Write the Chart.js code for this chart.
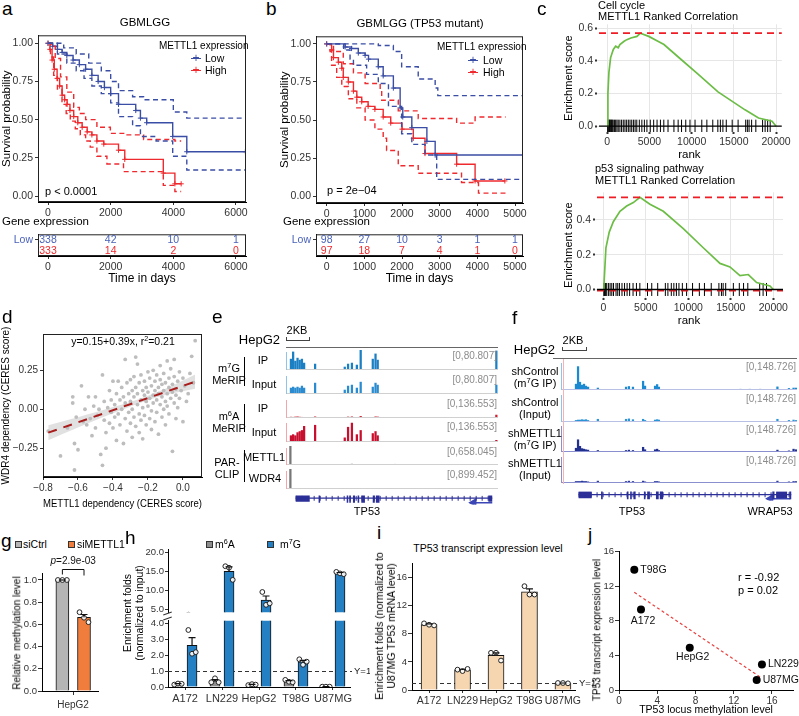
<!DOCTYPE html>
<html><head><meta charset="utf-8"><title>METTL1 figure</title>
<script src="https://cdn.jsdelivr.net/npm/chart.js@4.4.1/dist/chart.umd.min.js"></script>
<style>
html,body{margin:0;padding:0;background:#fff}
body{position:relative;width:799px;height:716px;overflow:hidden;font-family:"Liberation Sans",Arial,Helvetica,sans-serif;color:#000}
canvas{position:absolute;display:block}
.t{position:absolute;white-space:nowrap;line-height:1.15;z-index:5}
.l{position:absolute;z-index:4}
sup{font-size:0.68em;vertical-align:0.5em;line-height:0}
</style></head><body>
<script>
// ================= DATA =================
// a: GBMLGG Kaplan-Meier (time in days, survival)
const aLowT=[0,150,300,450,600,800,1000,1200,1400,1600,1800,2000,2250,2800,2950,3150,3980,4430,6300];
const aLowS=[1.0,0.98,0.96,0.94,0.92,0.89,0.86,0.83,0.79,0.75,0.71,0.67,0.60,0.56,0.51,0.48,0.39,0.29,0.29];
const aLowUpT=[0,500,900,1300,1700,2000,2250,2700,3050,4000,4430,6300];
const aLowUpS=[1.0,0.97,0.93,0.87,0.82,0.75,0.69,0.65,0.63,0.55,0.51,0.51];
const aLowLoT=[0,300,600,900,1150,1400,1700,2000,2250,2700,2950,3450,3980,4430,6300];
const aLowLoS=[1.0,0.93,0.87,0.82,0.77,0.72,0.67,0.61,0.52,0.46,0.39,0.36,0.26,0.17,0.17];
const aHighT=[0,60,130,200,290,370,450,530,610,700,820,950,1090,1250,1400,1560,1780,2250,2450,3680,4050,4250];
const aHighS=[1.0,0.96,0.89,0.83,0.77,0.72,0.66,0.63,0.60,0.56,0.52,0.48,0.45,0.42,0.40,0.36,0.34,0.30,0.24,0.15,0.08,0.08];
const aHighUpT=[0,100,230,400,600,820,1000,1200,1560,1990,2500,3050,4050,4250];
const aHighUpS=[1.0,0.98,0.90,0.78,0.68,0.58,0.54,0.50,0.45,0.41,0.40,0.37,0.36,0.36];
const aHighLoT=[0,80,180,300,446,580,711,870,1030,1200,1348,1560,1880,2410,3680,4050,4250];
const aHighLoS=[1.0,0.91,0.79,0.70,0.60,0.54,0.49,0.44,0.40,0.36,0.32,0.26,0.21,0.16,0.07,0.03,0.03];
const aRiskTimes=[0,2000,4000,6000];
const aRiskLow=[338,42,10,1];
const aRiskHigh=[333,14,2,0];
const aTicksX=[0,2000,4000,6000];

// b: GBMLGG (TP53 mutant)
const bLowT=[0,490,660,840,1020,1110,1370,1500,1770,1950,2020,2260,2660,2880,5300];
const bLowS=[1.0,0.98,0.97,0.94,0.925,0.90,0.85,0.79,0.71,0.58,0.52,0.45,0.36,0.27,0.27];
const bLowUpT=[0,1370,1770,1990,2430,2880,2950,5300];
const bLowUpS=[1.0,0.99,0.95,0.85,0.77,0.71,0.66,0.66];
const bLowLoT=[0,450,620,710,1060,1370,1640,1990,2260,2610,2920,5300];
const bLowLoS=[1.0,0.96,0.90,0.86,0.80,0.74,0.59,0.41,0.34,0.27,0.11,0.11];
const bHighT=[0,130,180,310,400,440,575,710,800,930,1100,1280,1500,1700,2000,2300,2610,3450,3940,4730];
const bHighS=[1.0,0.96,0.91,0.88,0.84,0.78,0.75,0.69,0.65,0.62,0.59,0.57,0.52,0.48,0.44,0.38,0.28,0.21,0.10,0.10];
const bHighUpT=[0,180,440,710,1020,1420,1460,1900,2430,3450,3940,4750];
const bHighUpS=[1.0,0.95,0.87,0.81,0.74,0.70,0.63,0.56,0.51,0.48,0.52,0.52];
const bHighLoT=[0,90,130,265,400,575,800,1020,1280,1500,1590,1900,2430,3580,4030,4750];
const bHighLoS=[1.0,0.95,0.86,0.78,0.72,0.64,0.58,0.50,0.44,0.38,0.30,0.20,0.15,0.09,0.02,0.02];
const bRiskTimes=[0,1000,2000,3000,4000,5000];
const bRiskLow=[98,27,10,3,1,1];
const bRiskHigh=[97,18,7,4,1,0];
const bTicksX=[0,1000,2000,3000,4000,5000];
const kmTicksY=[0,0.25,0.5,0.75,1];

// c: GSEA running enrichment scores
const cCycleRank=[0,80,200,400,720,1000,1300,1500,2000,2320,2800,3520,3920,4920,6000,6720,8720,10720,13120,14720,16320,17920,19520,20000];
const cCycleES=[0,0.2,0.33,0.42,0.47,0.49,0.48,0.50,0.52,0.53,0.54,0.55,0.57,0.55,0.52,0.50,0.41,0.32,0.21,0.155,0.10,0.05,0.03,0];
const cCycleHits=[50,120,200,280,350,430,520,600,700,850,1000,1150,1300,1500,1700,1900,2100,2300,2500,2700,2900,3100,3300,3500,3800,4100,4400,4700,5100,5500,5900,6300,6700,7200,7900,8400,8800,9300,9800,10400,11200,11800,12500,13100,13400,13700,14100,14800,15500,16400,16600,16800,17100,17600,18400,18700,19000,19300];
const cP53Rank=[0,80,310,700,1180,1960,2750,3530,4310,5490,7060,9410,11760,13730,14900,16080,17060,18040,18820,19610,20000];
const cP53ES=[0,0.03,0.24,0.33,0.39,0.45,0.48,0.50,0.53,0.49,0.45,0.35,0.24,0.15,0.13,0.08,0.086,0.04,0.03,0.02,0];
const cP53Hits=[60,150,250,400,600,800,1000,1200,1500,1700,1900,2200,2500,2800,3100,3500,3900,4300,5200,5700,6400,7300,7600,8000,8300,8600,8900,9300,9800,10500,11300,11900,12700,13600,13900,14100,14400,15300,16000,16500,17000,18400,18800,19200];
const cTicksX=[0,5000,10000,15000,20000];

// d: METTL1 vs WDR4 dependency (CERES)
const dX=[-0.77,-0.70,-0.66,-0.63,-0.63,-0.62,-0.62,-0.61,-0.60,-0.58,-0.57,-0.56,-0.55,-0.54,-0.53,-0.52,-0.51,-0.50,-0.50,
-0.49,-0.48,-0.47,-0.46,-0.46,-0.45,-0.45,-0.44,-0.44,-0.43,-0.42,-0.42,-0.41,-0.41,-0.40,-0.40,-0.39,-0.39,-0.38,-0.38,-0.37,-0.37,-0.36,-0.36,-0.35,-0.35,-0.34,-0.34,
-0.33,-0.33,-0.33,-0.32,-0.32,-0.31,-0.31,-0.30,-0.30,-0.30,-0.29,-0.29,-0.29,-0.28,-0.28,-0.28,-0.27,-0.27,-0.27,-0.26,-0.26,-0.26,-0.25,-0.25,-0.25,-0.24,-0.24,-0.24,-0.23,-0.23,-0.23,-0.22,-0.22,-0.22,-0.21,-0.21,-0.21,-0.20,-0.20,-0.20,-0.19,-0.19,-0.19,-0.18,-0.18,-0.18,-0.17,-0.17,-0.17,-0.16,-0.16,-0.16,
-0.15,-0.15,-0.15,-0.14,-0.14,-0.14,-0.13,-0.13,-0.13,-0.12,-0.12,-0.12,-0.11,-0.11,-0.11,-0.10,-0.10,-0.10,-0.09,-0.09,-0.09,-0.08,-0.08,-0.08,-0.07,-0.07,-0.06,-0.06,-0.06,-0.05,-0.05,-0.05,-0.04,-0.04,-0.04,-0.03,-0.03,-0.02,-0.02,-0.01,0.00,0.00,0.01,0.02,0.03,0.04,0.05,0.06,0.07];
const dY=[-0.14,-0.30,-0.12,0.08,0.04,-0.39,-0.22,-0.05,-0.26,0.15,-0.08,0.00,-0.10,0.08,-0.06,-0.17,0.02,0.08,-0.12,
-0.04,0.00,-0.29,-0.36,0.22,-0.07,0.05,-0.25,-0.15,0.01,-0.09,0.12,-0.02,0.06,-0.12,0.18,-0.05,0.03,0.10,-0.20,-0.03,0.18,0.06,-0.10,0.00,0.14,-0.22,0.08,
0.32,-0.06,0.04,0.17,-0.14,0.10,-0.02,0.19,0.05,-0.09,0.12,-0.18,0.00,0.08,-0.05,0.21,0.335,0.14,-0.11,0.29,0.03,0.10,-0.03,0.17,-0.15,0.06,0.22,-0.07,0.12,0.01,-0.19,0.09,0.18,-0.04,0.05,0.14,-0.10,0.24,0.02,0.11,-0.06,0.07,0.20,0.15,-0.01,-0.13,0.09,0.04,0.25,0.12,-0.08,0.18,
0.06,0.22,-0.02,0.14,0.10,-0.16,0.03,0.19,0.28,0.08,-0.05,0.16,0.12,0.00,0.23,0.05,-0.10,0.17,0.10,0.31,0.02,0.14,-0.03,0.20,0.07,0.26,-0.27,0.11,0.16,0.04,0.32,0.21,0.09,-0.06,0.13,0.18,0.01,0.24,0.07,0.12,0.20,-0.08,0.15,0.05,0.10,0.23,0.34,0.17,0.44];
const dFitA=0.15, dFitB=0.39, dR2=0.21;
const dBandX=[-0.77,-0.6,-0.4,-0.25,-0.1,0.07];
const dBandHW=[0.048,0.033,0.02,0.014,0.02,0.045];

// e: HepG2 TP53 locus tracks (position in kb, signal)
const eRange=[80.807,80.807,136.553,136.553,658.045,899.452];
const ePos=[0.45,0.65,0.85,1.05,1.25,1.45,1.65,2.65,5.35,5.65,6.0,6.45,6.8,7.9,8.15,8.35,19.15];
const eM7GIP=[44,73,36,48,40,44,28,24,12,24,28,20,80,44,65,40,77];
const eM7GInput=[24,28,24,28,24,32,24,44,16,32,36,24,48,28,44,36,36];
const eM6AIP=[6,5,7,8,6,5,4,8,3,7,8,4,11,4,8,7,20];
const eM6AInput=[41,48,41,61,68,75,102,109,27,96,123,48,75,55,68,41,11];
const eParPos=[0.4,6.0,9.9];
const eMETTL1=[658,30,25];
const eWDR4=[899,0,0];
const eIntron=[0.4,19.3];
const eUTR=[[0.4,1.75],[18.9,19.3]];
const eExons=[[2.6,2.75],[5.3,5.45],[5.55,5.7],[5.9,6.1],[6.35,6.5],[6.7,7.05],[7.8,8.0],[8.1,8.45]];
const eArrow=[17.5,19.3];

// f: HepG2 shControl / shMETTL1 tracks
const fRange=[148.726,148.726,148.726,148.726];
const fPos=[1.3,1.48,1.65,1.83,2.0,2.17,2.35,3.2,5.65,5.9,6.25,7.13,7.3,8.17,8.35,8.5,15.6,16.4,17.3,18.8,19.8,20.2,20.4];
const fCtrlIP=[30,120,40,25,30,20,15,10,15,18,15,45,20,20,28,15,4,4,4,16,8,10,10];
const fCtrlInput=[8,10,10,12,10,12,8,14,14,16,12,14,8,10,12,10,2,2,2,14,8,10,8];
const fKdIP=[20,65,30,18,15,12,10,8,8,10,8,25,12,12,15,8,3,3,3,10,6,15,12];
const fKdInput=[8,8,8,10,8,8,6,10,8,10,8,10,6,8,8,6,2,2,2,10,6,8,8];
const fIntron=[1.1,20.5];
const fUTR=[[1.1,2.3],[19.1,20.1]];
const fExons=[[3.15,3.3],[5.5,5.65],[5.8,5.95],[6.1,6.3],[7.05,7.2],[7.35,7.6],[8.15,8.4],[8.5,8.8],[18.75,18.95],[20.3,20.5]];
const fArrow=[18.6,20.4];

// g: relative methylation
const gGroup='HepG2';
const gCtrl=[1.0,1.0,1.0];
const gKd=[0.71,0.66,0.62];
const gP='2.9e-03';
const gTicksY=[0,0.2,0.4,0.6,0.8,1.0];

// h: enrichment folds (normalized to input)
const hCats=['A172','LN229','HepG2','T98G','U87MG'];
const hM6A=[[0.15,0.22,0.2],[0.3,0.55,0.3],[0.12,0.18,0.15],[0.45,0.33,0.3],[0.02,0.02,0.02]];
const hM7G=[[3.6,2.1,2.2],[16.4,16.0,12.8],[9.6,6.2,6.6],[1.75,1.4,1.6],[14.9,14.5,14.3]];
const hTicksLow=[0,1,2,3,4];
const hTicksHigh=[5,10,15,20];

// i: TP53 transcript expression
const iCats=['A172','LN229','HepG2','T98G','U87MG'];
const iVals=[[9.5,9.3,9.2],[2.9,2.7,3.0],[5.3,5.3,4.2],[14.8,13.6,13.6],[1.0,1.0,0.95]];
const iTicksY=[0,4,8,12,16];

// j: methylation vs expression
const jNames=['A172','LN229','HepG2','T98G','U87MG'];
const jMeth=[2.3,14.95,7.4,1.6,14.4];
const jExpr=[9.3,2.95,4.9,13.9,1.15];
const jR='-0.92', jPv='0.02';
const jTicks=[0,4,8,12,16];

// ================= HELPERS =================
const FF='"Liberation Sans", Arial, Helvetica, sans-serif';
Chart.defaults.font.family=FF;
Chart.defaults.color='#333';
const BLUE='#3b4ea5', RED='#ee2a2e', GREEN='#6cbd45', NAVY='#2b2f97';
const mean=a=>a.reduce((s,v)=>s+v,0)/a.length;
const sem=a=>{const m=mean(a);return Math.sqrt(a.reduce((s,v)=>s+(v-m)*(v-m),0)/(a.length-1))/Math.sqrt(a.length);};
const minus=s=>String(s).replace('-','\u2212');

function T(html,x,y,o){o=o||{};const d=document.createElement('div');d.className='t';d.innerHTML=html;
  d.style.fontSize=(o.fs||11)+'px';d.style.left=x+'px';d.style.top=y+'px';
  if(o.color)d.style.color=o.color; if(o.it)d.style.fontStyle='italic'; if(o.ta)d.style.textAlign=o.ta;
  const ax=o.a==='c'?'-50%':o.a==='r'?'-100%':'0';
  d.style.transform=o.rot?('translate(-50%,-50%) rotate('+o.rot+'deg)'):('translate('+ax+',-50%)');
  document.body.appendChild(d);return d;}
function box(x,y,w,h,css){const d=document.createElement('div');d.className='l';
  Object.assign(d.style,{left:x+'px',top:y+'px',width:w+'px',height:h+'px'},css||{});document.body.appendChild(d);return d;}
function key(x,y,c){box(x-5,y,10,0,{borderTop:'1.4px solid '+c});T('+',x,y+0.5,{fs:12,a:'c',color:c});}

function mk(L,Tp,R,B,o,cfg){
  const pt=o.pt!=null?o.pt:6, pr=o.pr!=null?o.pr:12, pb=o.pb||0, yW=o.yW||0, xH=o.xH||0;
  const left=L-yW, top=Tp-pt, w=Math.round(R-L+yW+pr), h=Math.round(B-Tp+pt+xH+pb);
  const c=document.createElement('canvas');c.width=w;c.height=h;
  Object.assign(c.style,{left:left+'px',top:top+'px',width:w+'px',height:h+'px'});
  document.body.appendChild(c);
  cfg.options=Object.assign({responsive:false,maintainAspectRatio:false,animation:false,devicePixelRatio:1,events:[]},cfg.options||{});
  cfg.options.layout={padding:{top:pt,right:pr,bottom:pb,left:0}};
  cfg.options.plugins={legend:{display:false},tooltip:{enabled:false}};
  return new Chart(c,cfg);
}
function lin(o){
  const tl=o.tl!=null?o.tl:3;
  return {type:'linear',min:o.min,max:o.max,display:true,offset:false,
    afterBuildTicks:s=>{s.ticks=(o.ticks||[]).map(v=>({value:v}));},
    afterFit:s=>{if(o.size!=null){if(s.isHorizontal())s.height=o.size;else s.width=o.size;}},
    ticks:{display:o.hide?false:true,autoSkip:false,maxRotation:0,minRotation:0,padding:o.pad!=null?o.pad:2,color:o.tc||'#333',font:{size:o.fs||10,family:FF},callback:o.fmt||(v=>String(v))},
    grid:{display:!o.hide,offset:false,drawOnChartArea:!!o.gridOn,color:o.gc||'#e6e6e6',lineWidth:1,drawTicks:tl>0,tickLength:tl,tickColor:o.tcol||'#333',tickWidth:o.tw||1},
    border:{display:o.border!==false&&!o.hide,color:'#000',width:1},
    title:o.title?{display:true,text:o.title,color:'#000',font:{size:o.tfs||11,family:FF},padding:o.tpad||{top:0,bottom:2}}:{display:false}};
}
const frameP={id:'frameP',afterDraw(ch){const a=ch.chartArea,ctx=ch.ctx;ctx.save();ctx.strokeStyle='#222';ctx.lineWidth=1;
  ctx.strokeRect(a.left+0.5,a.top+0.5,a.right-a.left-1,a.bottom-a.top-1);ctx.restore();}};
const DOT={showLine:false,clip:0,pointRadius:2.4,pointStyle:'circle',pointBackgroundColor:'rgba(255,255,255,0.9)',pointBorderColor:'#222',pointBorderWidth:1};
function errP(list){return {id:'err',afterDatasetsDraw(ch){const ctx=ch.ctx,xs=ch.scales.x,ys=ch.scales.y,a=ch.chartArea;
  ctx.save();ctx.beginPath();ctx.rect(a.left,a.top-1,a.right-a.left,a.bottom-a.top+1);ctx.clip();
  ctx.strokeStyle='#111';ctx.lineWidth=1.2;
  list.forEach(([x,vals])=>{const m=mean(vals),s=sem(vals),px=xs.getPixelForValue(x),y1=ys.getPixelForValue(m),y2=ys.getPixelForValue(m+s);
    ctx.beginPath();ctx.moveTo(px,y1);ctx.lineTo(px,y2);ctx.moveTo(px-3.5,y2);ctx.lineTo(px+3.5,y2);ctx.stroke();});
  ctx.restore();}};}
function refY1(label){return {id:'y1',beforeDatasetsDraw(ch){const ctx=ch.ctx,ys=ch.scales.y,a=ch.chartArea,y=Math.round(ys.getPixelForValue(1))+0.5;
  ctx.save();ctx.strokeStyle='#333';ctx.lineWidth=1;ctx.setLineDash([4,3]);ctx.beginPath();ctx.moveTo(a.left,y);ctx.lineTo(a.right+2,y);ctx.stroke();ctx.restore();},
  afterDraw(ch){const ctx=ch.ctx,ys=ch.scales.y,a=ch.chartArea;ctx.save();ctx.fillStyle='#222';ctx.font='9.5px '+FF;ctx.textBaseline='middle';ctx.textAlign='left';
  ctx.fillText(label,a.right+4,ys.getPixelForValue(1));ctx.restore();}};}

// ================= PANEL a / b =================
function km(L,Tp,R,B,xmin,xmax,xt,ymin,ymax,sets){
  return mk(L,Tp,R,B,{yW:38,xH:16,pt:6,pr:14},{type:'line',data:{datasets:sets.map(d=>({
    data:d.t.map((t,i)=>({x:t,y:d.s[i]})),stepped:true,borderColor:d.c,borderWidth:1.4,borderDash:d.dash?[5,3.5]:[],
    pointRadius:d.dash?0:2.6,pointStyle:'cross',pointBorderColor:d.c,pointBorderWidth:1,fill:false}))},
    options:{scales:{x:lin({min:xmin,max:xmax,ticks:xt,size:16,fs:10.5}),
      y:lin({min:ymin,max:ymax,ticks:kmTicksY,fmt:v=>v.toFixed(2),size:38,fs:10.5,title:'Survival probability',tfs:11.5,tpad:{top:0,bottom:2}})}},
    plugins:[frameP]});
}
function risk(L,Tp,R,B,xmin,xmax,xt,low,high){
  return mk(L,Tp,R,B,{yW:38,xH:30,pt:6,pr:14},{type:'line',data:{datasets:[]},options:{scales:{
    x:lin({min:xmin,max:xmax,ticks:xt,size:30,fs:10.5,title:'Time in days',tfs:12,tpad:{top:2,bottom:0}}),
    y:{type:'category',labels:['Low','High'],offset:true,afterFit:s=>{s.width=38;},
       ticks:{font:{size:10.5,family:FF},color:c=>c.index===0?'#4a62b8':RED,padding:2},
       grid:{display:true,offset:false,drawOnChartArea:false,tickLength:3,tickColor:'#333'},border:{display:true,color:'#000'}}}},
    plugins:[frameP,{id:'rt',afterDraw(ch){const ctx=ch.ctx,xs=ch.scales.x,ys=ch.scales.y;ctx.save();ctx.font='10.5px '+FF;ctx.textAlign='center';ctx.textBaseline='middle';
      [low,high].forEach((row,i)=>{ctx.fillStyle=i?RED:'#4a62b8';row.forEach((v,j)=>ctx.fillText(String(v),xs.getPixelForValue(xt[j]),ys.getPixelForValue(i)+0.5));});ctx.restore();}}]});
}
km(38,33,246,202,-320,6320,aTicksX,-0.039,1.052,[
  {t:aLowUpT,s:aLowUpS,c:BLUE,dash:true},{t:aLowLoT,s:aLowLoS,c:BLUE,dash:true},
  {t:aHighUpT,s:aHighUpS,c:RED,dash:true},{t:aHighLoT,s:aHighLoS,c:RED,dash:true},
  {t:aLowT,s:aLowS,c:BLUE},{t:aHighT,s:aHighS,c:RED}]);
risk(38,232,246,256,-320,6320,aRiskTimes,aRiskLow,aRiskHigh);
km(316,34,523,203,-284,5212,bTicksX,-0.045,1.05,[
  {t:bLowUpT,s:bLowUpS,c:BLUE,dash:true},{t:bLowLoT,s:bLowLoS,c:BLUE,dash:true},
  {t:bHighUpT,s:bHighUpS,c:RED,dash:true},{t:bHighLoT,s:bHighLoS,c:RED,dash:true},
  {t:bLowT,s:bLowS,c:BLUE},{t:bHighT,s:bHighS,c:RED}]);
risk(316,232,523,256,-284,5212,bRiskTimes,bRiskLow,bRiskHigh);

T('a',2,9,{fs:19});T('b',266,9,{fs:19});
T('GBMLGG',145,23,{fs:11.5,a:'c'});T('GBMLGG (TP53 mutant)',420,24,{fs:11.5,a:'c'});
T('METTL1 expression',159,46,{fs:10});key(196,58,BLUE);T('Low',205,58,{fs:10.5});key(196,70,RED);T('High',205,70,{fs:10.5});
T('METTL1 expression',437,47,{fs:10});key(473,60,BLUE);T('Low',483,60,{fs:10.5});key(473,72,RED);T('High',483,72,{fs:10.5});
T('p &lt; 0.0001',45,191,{fs:11});T('p = 2e\u221204',327,190,{fs:11});
T('Gene expression',2,222,{fs:11.5});T('Gene expression',283,222,{fs:11.5});

// ================= PANEL c =================
function gsea(L,Tp,R,B,yW,xmin,xmax,ymin,ymax,yt,rank,es,hits,zeroRed){
  const top=Math.max(...es);
  return mk(L,Tp,R,B,{yW:yW,xH:30,pt:6,pr:10},{type:'line',data:{datasets:[
    {data:rank.map((r,i)=>({x:r,y:es[i]})),borderColor:GREEN,borderWidth:1.7,pointRadius:0,tension:0,order:1},
    {type:'scatter',data:hits.map(h=>({x:h,y:0})),pointStyle:'line',pointRotation:90,pointRadius:6.5,pointBorderColor:'#000',pointBorderWidth:1,showLine:false,order:2}]},
    options:{scales:{
      x:lin({min:xmin,max:xmax,ticks:cTicksX,size:30,gridOn:true,border:false,tl:2,tw:2,fs:10.5,title:'rank',tfs:11.5,tpad:{top:1,bottom:0}}),
      y:lin({min:ymin,max:ymax,ticks:yt,fmt:v=>v.toFixed(1),size:yW,gridOn:true,border:false,tl:2,tw:2,fs:10.5,title:'Enrichment score',tfs:11,tpad:{top:0,bottom:2}})}},
    plugins:[{id:'ref',afterDatasetsDraw(ch){const ctx=ch.ctx,a=ch.chartArea,ys=ch.scales.y;ctx.save();
      const yt_=ys.getPixelForValue(top),y0=ys.getPixelForValue(0);
      ctx.strokeStyle='#ee1c25';ctx.lineWidth=1.6;ctx.setLineDash([7,5]);ctx.beginPath();ctx.moveTo(a.left+2,yt_);ctx.lineTo(a.right,yt_);ctx.stroke();
      if(zeroRed){ctx.lineWidth=2.6;ctx.beginPath();ctx.moveTo(a.left+2,y0+0.8);ctx.lineTo(a.right,y0+0.8);ctx.stroke();}
      ctx.setLineDash([]);ctx.strokeStyle='#000';ctx.lineWidth=1.4;ctx.beginPath();ctx.moveTo(a.left+2,y0);ctx.lineTo(a.right,y0);ctx.stroke();ctx.restore();}}]});
}
gsea(597,22,783,132,35,-1212,20670,-0.0357,0.624,[0,0.2,0.4,0.6],cCycleRank,cCycleES,cCycleHits,false);
gsea(595,190,783,298,33,-976,21141,-0.049,0.559,[0,0.2,0.4],cP53Rank,cP53ES,cP53Hits,true);
T('c',537,9,{fs:19});
T('Cell cycle',598,5,{fs:11});T('METTL1 Ranked Correlation',598,16,{fs:11});
T('p53 signaling pathway',595,168,{fs:11});T('METTL1 Ranked Correlation',595,180,{fs:11});

// ================= PANEL d =================
(function(){
  const x0=Math.min(...dX),x1=Math.max(...dX);
  mk(43,332,202,477,{yW:43,xH:33,pt:6,pr:10},{type:'scatter',data:{datasets:[
    {type:'line',data:dBandX.map((x,i)=>({x:x,y:dFitA+dFitB*x+dBandHW[i]})),borderWidth:0,pointRadius:0,fill:'+1',backgroundColor:'rgba(200,200,200,0.55)',tension:0.35,order:3},
    {type:'line',data:dBandX.map((x,i)=>({x:x,y:dFitA+dFitB*x-dBandHW[i]})),borderWidth:0,pointRadius:0,fill:false,tension:0.35,order:3},
    {data:dX.map((x,i)=>({x:x,y:dY[i]})),pointRadius:1.9,pointBackgroundColor:'#bdbdbd',pointBorderWidth:0,order:2},
    {type:'line',data:[{x:x0,y:dFitA+dFitB*x0},{x:x1,y:dFitA+dFitB*x1}],borderColor:'#a81c1c',borderWidth:2,borderDash:[9,7],pointRadius:0,order:1}]},
    options:{scales:{
      x:lin({min:-0.8,max:0.109,ticks:[-0.8,-0.6,-0.4,-0.2,0],fmt:v=>minus(v.toFixed(1)),size:33,fs:10,title:'METTL1 dependency (CERES score)',tfs:10.5,tpad:{top:4,bottom:0}}),
      y:lin({min:-0.435,max:0.483,ticks:[-0.25,0,0.25],fmt:v=>minus(v.toFixed(2)),size:43,fs:10,title:'WDR4 dependency (CERES score)',tfs:10,tpad:{top:0,bottom:4}})}},
    plugins:[frameP]});
})();
T('d',2,317,{fs:19});
T('y=0.15+0.39x, r<sup>2</sup>=0.21',123,341,{fs:10.5,a:'c'});

// ================= PANEL e / f (tracks) =================
function track(L,Tp,R,B,xmax,pos,vals,rmax,col,leftCol,baseCol){
  return mk(L,Tp,R,B,{pt:0,pr:0},{type:'bar',data:{datasets:[{data:pos.map((p,i)=>({x:p,y:vals[i]})),backgroundColor:col,borderWidth:0,barThickness:1.6,grouped:false}]},
    options:{scales:{x:{type:'linear',display:false,min:0,max:xmax,offset:false},y:{type:'linear',display:false,min:0,max:rmax}}},
    plugins:[{id:'trk',afterDraw(ch){const a=ch.chartArea,ctx=ch.ctx;ctx.save();ctx.lineWidth=1;
      ctx.strokeStyle=baseCol;ctx.beginPath();ctx.moveTo(a.left,a.bottom-0.5);ctx.lineTo(a.right,a.bottom-0.5);ctx.stroke();
      ctx.strokeStyle=leftCol;ctx.beginPath();ctx.moveTo(a.left+0.5,a.top+2);ctx.lineTo(a.left+0.5,a.bottom);ctx.stroke();
      ctx.fillStyle='#8c8c8c';ctx.font='10px '+FF;ctx.textAlign='right';ctx.textBaseline='top';
      ctx.fillText('[0,'+rmax.toFixed(3)+']',a.right-1,a.top+1);ctx.restore();}}]});
}
function gene(L,Tp,R,B,xmax,intron,utr,exons,arrow,gy){
  const AY=0.2;
  const seg=(arr,y)=>{const d=[];arr.forEach(p=>{d.push({x:p[0],y:y},{x:p[1],y:y},{x:p[1],y:null});});return d;};
  return mk(L,Tp,R,B,{pt:0,pr:0},{type:'line',data:{datasets:[
    {data:seg([intron],gy),borderColor:NAVY,borderWidth:1.2,pointRadius:0,spanGaps:false},
    {data:seg([intron],gy),borderColor:NAVY,borderWidth:5,borderDash:[1,5],pointRadius:0,spanGaps:false},
    {data:seg(utr,gy),borderColor:NAVY,borderWidth:7,borderCapStyle:'butt',pointRadius:0,spanGaps:false},
    {data:seg(exons,gy),borderColor:NAVY,borderWidth:9,borderCapStyle:'butt',pointRadius:0,spanGaps:false},
    {data:[{x:arrow[0],y:AY},{x:arrow[1],y:AY}],borderColor:'#3b45b5',borderWidth:1.5,pointRadius:[4,0],pointStyle:'triangle',pointRotation:-90,pointBackgroundColor:'#3b45b5',pointBorderColor:'#3b45b5'}]},
    options:{scales:{x:{type:'linear',display:false,min:0,max:xmax,offset:false},y:{type:'linear',display:false,min:0,max:1}}}});
}
const EX=19.3;
track(286,350,498,370,EX,ePos,eM7GIP,eRange[0],'#1b7fc4','#8cc4ea','#d0d0d0');
track(286,374,498,394,EX,ePos,eM7GInput,eRange[1],'#2a8bd0','#8cc4ea','#d0d0d0');
track(286,398,498,418,EX,ePos,eM6AIP,eRange[2],'#d0202f','#f4a6a6','#d0d0d0');
track(286,421,498,442,EX,ePos,eM6AInput,eRange[3],'#c8102e','#f4a6a6','#d0d0d0');
track(286,446,498,465,EX,eParPos,eMETTL1,eRange[4],'#777777','#f4a6a6','#d0d0d0');
track(286,469,498,489,EX,eParPos,eWDR4,eRange[5],'#777777','#f4a6a6','#d0d0d0');
gene(286,490,498,510,EX,eIntron,eUTR,eExons,eArrow,0.7);
T('e',212,317,{fs:19});
T('HepG2',280,340,{fs:13,a:'r'});T('2KB',297,330,{fs:11,a:'c'});
box(286,337,22,3,{borderLeft:'1px solid #444',borderRight:'1px solid #444',borderBottom:'1px solid #444'});
box(286,347,212,0,{borderTop:'1px solid #666'});
T('m<sup>7</sup>G',229,368,{fs:11,a:'c'});T('MeRIP',229,380,{fs:11,a:'c'});box(244,357,0,29,{borderLeft:'1px solid #000'});
T('IP',263,360,{fs:11,a:'c'});T('Input',264,384,{fs:11,a:'c'});
T('m<sup>6</sup>A',229,416,{fs:11,a:'c'});T('MeRIP',229,428,{fs:11,a:'c'});box(244,404,0,28,{borderLeft:'1px solid #000'});
T('IP',263,408,{fs:11,a:'c'});T('Input',264,432,{fs:11,a:'c'});
T('PAR-',227,462,{fs:11,a:'c'});T('CLIP',227,474,{fs:11,a:'c'});box(244,450,0,32,{borderLeft:'1px solid #000'});
T('METTL1',264,457,{fs:11,a:'c'});T('WDR4',265,478,{fs:11,a:'c'});
T('TP53',367,511,{fs:11,a:'c'});

const FX=20.5;
track(561,361,797,390,FX,fPos,fCtrlIP,fRange[0],'#1c8ad1','#8cc4ea','#b9c0e6');
track(561,393,797,422,FX,fPos,fCtrlInput,fRange[1],'#2a94d6','#8cc4ea','#b9c0e6');
track(561,424,797,452,FX,fPos,fKdIP,fRange[2],'#22308f','#8a8fd0','#8a8fd0');
track(561,455,797,483,FX,fPos,fKdInput,fRange[3],'#2b3a9c','#8a8fd0','#8a8fd0');
gene(561,486,797,506,FX,fIntron,fUTR,fExons,fArrow,0.65);
box(563,358,0,126,{borderLeft:'1px solid #f6b3b3'});
T('f',512,318,{fs:19});
T('HepG2',555,350,{fs:13,a:'r'});T('2KB',573,340,{fs:11,a:'c'});
box(562,347,23,3,{borderLeft:'1px solid #444',borderRight:'1px solid #444',borderBottom:'1px solid #444'});
box(553,358,244,0,{borderTop:'1px solid #666'});
T('shControl',535,371,{fs:11,a:'c'});T('(m<sup>7</sup>G IP)',535,383,{fs:11,a:'c'});
T('shControl',535,402,{fs:11,a:'c'});T('(Input)',535,414,{fs:11,a:'c'});
T('shMETTL1',535,433,{fs:11,a:'c'});T('(m<sup>7</sup>G IP)',535,445,{fs:11,a:'c'});
T('shMETTL1',535,463,{fs:11,a:'c'});T('(Input)',535,475,{fs:11,a:'c'});
T('TP53',632,511,{fs:11,a:'c'});T('WRAP53',770,511,{fs:11,a:'c'});

// ================= PANEL g =================
mk(42,573,98,691,{yW:42,xH:22,pt:20,pr:6},{type:'bar',data:{datasets:[
  {data:[{x:-0.19,y:mean(gCtrl)}],backgroundColor:'#b5b5b5',borderColor:'#111',borderWidth:1,barThickness:13,grouped:false,clip:0,order:3},
  {data:[{x:0.196,y:mean(gKd)}],backgroundColor:'#f07d3b',borderColor:'#111',borderWidth:1,barThickness:13,grouped:false,clip:0,order:3},
  Object.assign({type:'scatter',data:gCtrl.map((v,k)=>({x:-0.19+(k-1)*0.08,y:v})),order:1},DOT,{clip:4}),
  Object.assign({type:'scatter',data:gKd.map((v,k)=>({x:0.196+(k-1)*0.08,y:v})),order:1},DOT)]},
  options:{scales:{x:lin({min:-0.554,max:0.446,ticks:[0],fmt:()=>gGroup,size:22,fs:10,tl:4,pad:4}),
    y:lin({min:0,max:1.063,ticks:gTicksY,fmt:v=>v.toFixed(1),size:42,fs:9.5,tl:4,pad:1})}},
  plugins:[errP([[-0.19,gCtrl],[0.196,gKd]]),{id:'pb',afterDraw(ch){const ctx=ch.ctx,xs=ch.scales.x,a=ch.chartArea;
    const x1=xs.getPixelForValue(-0.19),x2=xs.getPixelForValue(0.196),y0=a.top-3.5;ctx.save();ctx.strokeStyle='#111';ctx.lineWidth=1;
    ctx.beginPath();ctx.moveTo(x1,y0+5);ctx.lineTo(x1,y0);ctx.lineTo(x2,y0);ctx.lineTo(x2,y0+6);ctx.stroke();
    ctx.fillStyle='#111';ctx.textBaseline='middle';ctx.font='italic 10px '+FF;const w1=ctx.measureText('p').width;ctx.font='10px '+FF;const w2=ctx.measureText('='+gP).width;
    const sx=(x1+x2)/2-(w1+w2)/2;ctx.textAlign='left';ctx.font='italic 10px '+FF;ctx.fillText('p',sx,y0-8);ctx.font='10px '+FF;ctx.fillText('='+gP,sx+w1,y0-8);ctx.restore();}}]});
T('g',1,541,{fs:19});
box(15,541,5,5,{background:'#b5b5b5',border:'1px solid #333'});T('siCtrl',23,544,{fs:10.5});
box(68,541,5,5,{background:'#f07d3b',border:'1px solid #333'});T('siMETTL1',77,544,{fs:10.5});
T('Relative methylation level',17,633,{fs:10,rot:-90});

// ================= PANEL h =================
function hChart(L,Tp,R,B,o,ymin,ymax,yt,showX){
  const dots=(arr,off)=>arr.flatMap((r,i)=>r.map((v,k)=>({x:i+off+(k-1)*0.1,y:v})));
  const pl=[errP(hM6A.map((r,i)=>[i-0.19,r]).concat(hM7G.map((r,i)=>[i+0.19,r])))];
  if(showX) pl.push(refY1('Y=1'));
  return mk(L,Tp,R,B,o,{type:'bar',data:{datasets:[
    {data:hCats.map((c,i)=>({x:i-0.19,y:mean(hM6A[i])})),backgroundColor:'#8d8d8d',borderColor:'#111',borderWidth:1,barThickness:10,grouped:false,clip:0,order:3},
    {data:hCats.map((c,i)=>({x:i+0.19,y:mean(hM7G[i])})),backgroundColor:'#2480c3',borderColor:'#111',borderWidth:1,barThickness:10,grouped:false,clip:0,order:3},
    Object.assign({type:'scatter',data:dots(hM6A,-0.19),order:1},DOT),
    Object.assign({type:'scatter',data:dots(hM7G,0.19),order:1},DOT)]},
    options:{scales:{x:lin({min:-0.46,max:4.46,ticks:[0,1,2,3,4],fmt:v=>hCats[v],size:showX?18:0,fs:11,tl:showX?3:0,pad:2,hide:!showX}),
      y:lin({min:ymin,max:ymax,ticks:yt,fmt:v=>v.toFixed(1),size:48,fs:9.5,tl:3,pad:1})}},plugins:pl});
}
hChart(168,549,350,614,{yW:48,xH:0,pt:6,pr:20,pb:5},4.237,20.76,hTicksHigh,false);
hChart(168,620,350,687,{yW:48,xH:18,pt:6,pr:20},0,4.1875,hTicksLow,true);
box(163,613,9,0,{borderTop:'1px solid #333',transform:'rotate(-20deg)'});
box(163,618,9,0,{borderTop:'1px solid #333',transform:'rotate(-20deg)'});
T('h',125,538,{fs:19});
box(206,541,5,5,{background:'#8d8d8d',border:'1px solid #333'});T('m<sup>6</sup>A',215,544,{fs:10.5});
box(267,541,5,5,{background:'#2480c3',border:'1px solid #333'});T('m<sup>7</sup>G',280,544,{fs:10.5});
T('Enrichment folds<br>(normalized to input)',133,613,{fs:10.5,rot:-90,ta:'center'});

// ================= PANEL i =================
mk(412,563,575,690,{yW:30,xH:18,pt:6,pr:24},{type:'bar',data:{datasets:[
  {data:iCats.map((c,i)=>({x:i,y:mean(iVals[i])})),backgroundColor:'#f5d6b0',borderColor:'#111',borderWidth:1,barThickness:16,grouped:false,clip:0,order:3},
  Object.assign({type:'scatter',data:iVals.flatMap((r,i)=>r.map((v,k)=>({x:i+(k-1)*0.15,y:v}))),order:1},DOT)]},
  options:{scales:{x:lin({min:-0.51,max:4.36,ticks:[0,1,2,3,4],fmt:v=>iCats[v],size:18,fs:10.5,tl:3,pad:2}),
    y:lin({min:0,max:18,ticks:iTicksY,size:30,fs:9.5,tl:4,pad:1})}},
  plugins:[errP(iVals.map((r,i)=>[i,r])),refY1('Y=1')]});
T('i',377,533,{fs:19});
T('TP53 transcript expression level',488,548,{fs:10.5,a:'c'});
T('Enrichment folds (normalized to<br>U87MG TP53 mRNA level)',385,626,{fs:10.5,rot:-90,ta:'center'});

// ================= PANEL j =================
(function(){
  const mx=mean(jMeth),my=mean(jExpr);
  const slope=jMeth.reduce((s,x,i)=>s+(x-mx)*(jExpr[i]-my),0)/jMeth.reduce((s,x)=>s+(x-mx)*(x-mx),0);
  const icpt=my-slope*mx, x0=Math.min(...jMeth), x1=Math.max(...jMeth);
  const place={A172:['c',2,11],LN229:['l',6,0],HepG2:['c',3,9],T98G:['l',6,0],U87MG:['l',6,0]};
  mk(619,551,793,690,{yW:17,xH:26,pt:6,pr:6},{type:'scatter',data:{datasets:[
    {type:'line',data:[{x:x0,y:icpt+slope*x0},{x:x1,y:icpt+slope*x1}],borderColor:'#e8403f',borderWidth:1.2,borderDash:[3,2.5],pointRadius:0,order:2},
    {data:jMeth.map((x,i)=>({x:x,y:jExpr[i]})),pointRadius:4,pointBackgroundColor:'#000',pointBorderWidth:0,order:1}]},
    options:{scales:{x:lin({min:0,max:18.2,ticks:jTicks,size:26,fs:10,tl:4,pad:1,title:'TP53 locus methylation level',tfs:10.5,tpad:{top:1,bottom:0}}),
      y:lin({min:0,max:16,ticks:jTicks,size:17,fs:9.5,tl:4,pad:1})}},
    plugins:[{id:'lab',afterDraw(ch){const ctx=ch.ctx,xs=ch.scales.x,ys=ch.scales.y;ctx.save();ctx.fillStyle='#111';ctx.font='10.5px '+FF;ctx.textBaseline='middle';
      jNames.forEach((n,i)=>{const p=place[n],px=xs.getPixelForValue(jMeth[i]),py=ys.getPixelForValue(jExpr[i]);ctx.textAlign=p[0]==='c'?'center':'left';ctx.fillText(n,px+p[1],py+p[2]);});ctx.restore();}}]});
})();
T('j',588,535,{fs:19});
T('r = '+jR,738,577,{fs:11});T('p = '+jPv,738,590,{fs:11});
T('TP53 transcript expression level',597,630,{fs:10,rot:-90});
</script>
</body></html>
